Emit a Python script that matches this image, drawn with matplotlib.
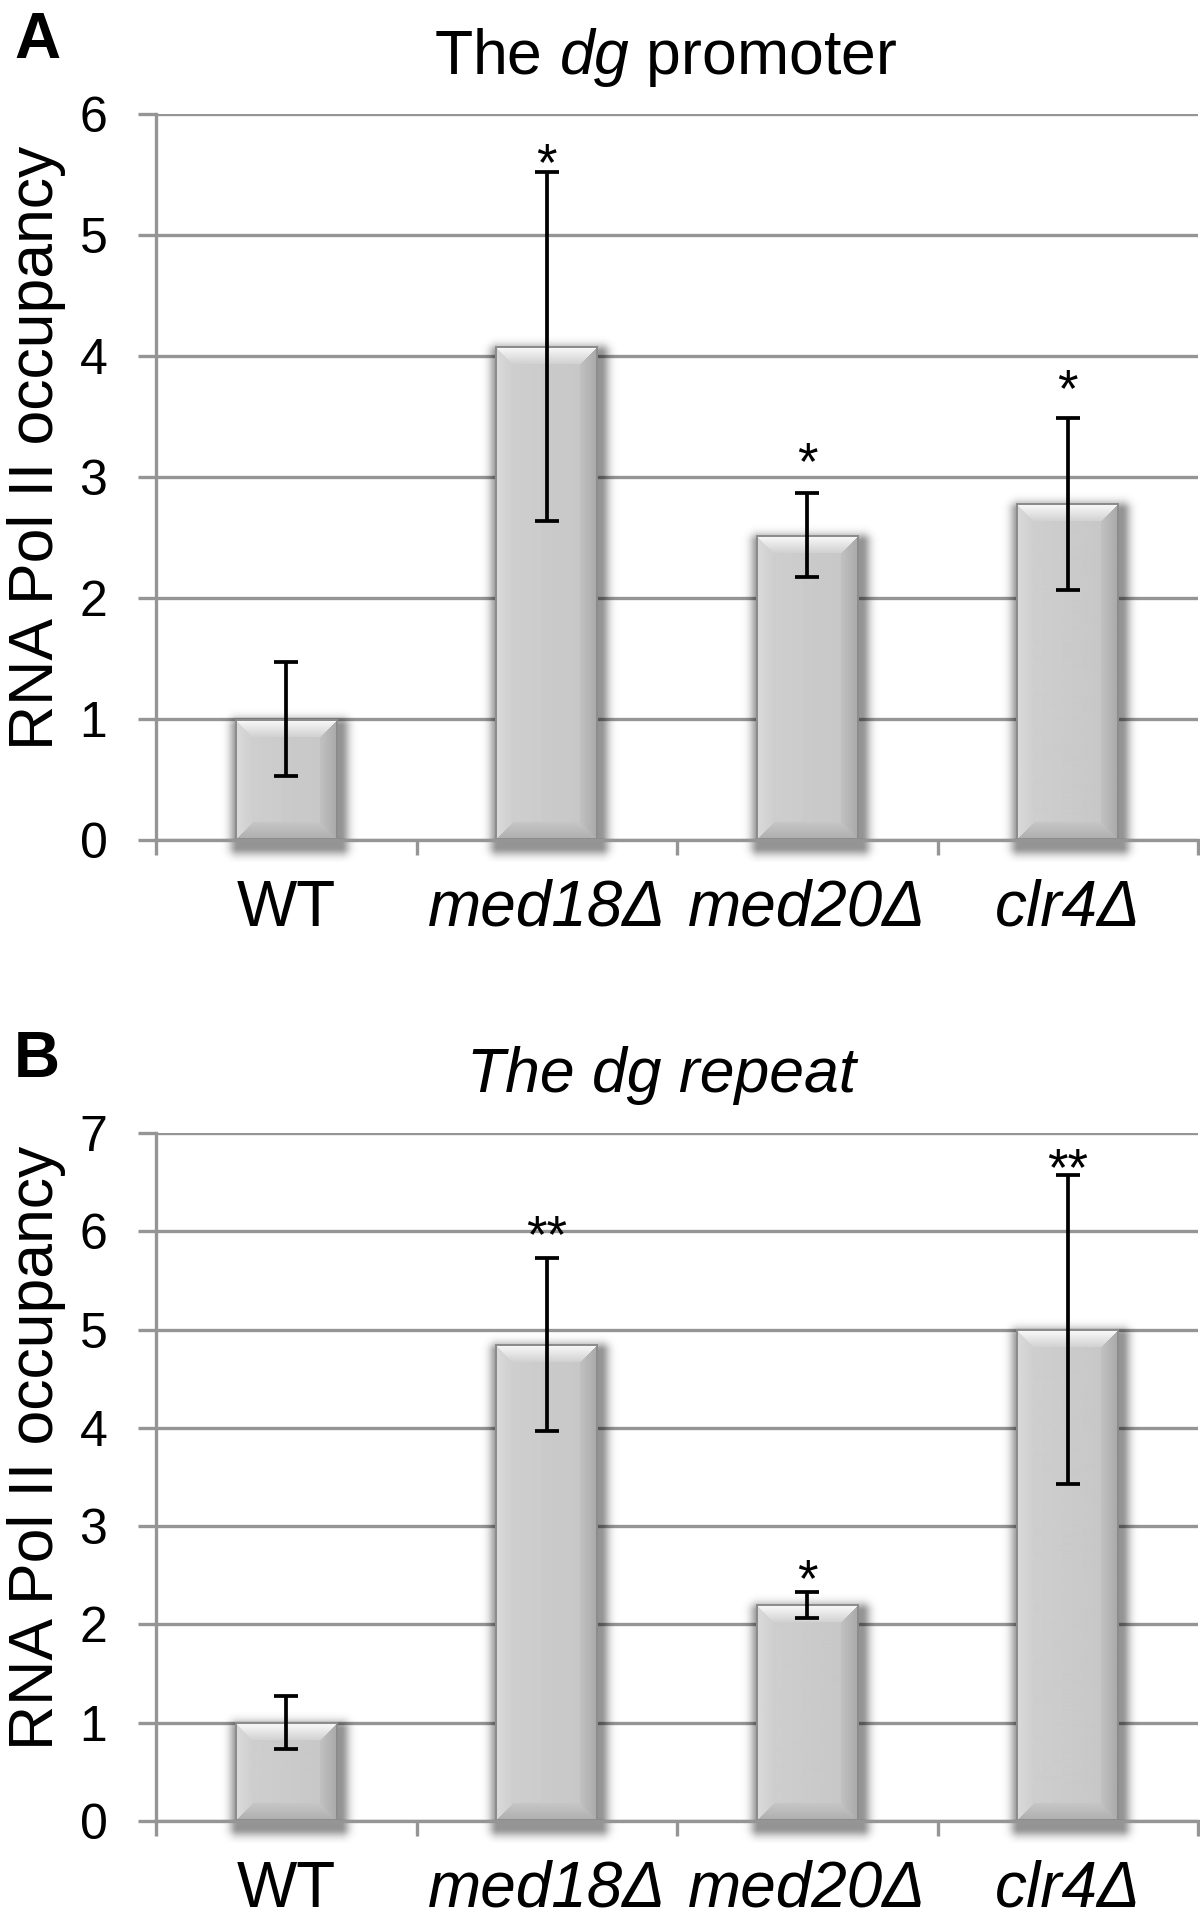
import numpy as np
import matplotlib
matplotlib.use('Agg')
import matplotlib.pyplot as plt

plt.rcParams['font.family'] = ['Liberation Sans', 'DejaVu Sans']
plt.rcParams['mathtext.fontset'] = 'custom'
plt.rcParams['mathtext.rm'] = 'Liberation Sans'
plt.rcParams['mathtext.it'] = 'Liberation Sans:italic'

# ---------------- data ----------------
categories = ['WT', 'med18Δ', 'med20Δ', 'clr4Δ']
italic_cat = [False, True, True, True]

promoter_values = [1.0, 4.08, 2.52, 2.78]
promoter_errors = [0.47, 1.44, 0.35, 0.71]
promoter_marks = ['', '*', '*', '*']

repeat_values = [1.0, 4.85, 2.20, 5.0]
repeat_errors = [0.27, 0.88, 0.13, 1.57]
repeat_marks = ['', '**', '*', '**']

promoter_yticks = [0, 1, 2, 3, 4, 5, 6]
repeat_yticks = [0, 1, 2, 3, 4, 5, 6, 7]

# ---------------- style ----------------
W, H, DPI = 1200, 1926, 100
GRAY = '#959595'
LW = 2.4
STAR_FS = 38

fig = plt.figure(figsize=(W / DPI, H / DPI), dpi=DPI)
axA = fig.add_axes([156 / W, 1 - 840 / H, 1042 / W, 726 / H])
axB = fig.add_axes([156 / W, 1 - 1821 / H, 1042 / W, 688 / H])


def shade_bar(ax, bar):
    x0, w, h = bar.get_x(), bar.get_width(), bar.get_height()
    p0 = ax.transData.transform((x0, 0))
    p1 = ax.transData.transform((x0 + w, h))
    wp = int(round(p1[0] - p0[0]))
    hp = int(round(p1[1] - p0[1]))
    jj, ii = np.meshgrid(np.arange(wp) + 0.5, np.arange(hp) + 0.5)
    dl, dr, dt, db = jj, wp - jj, ii, hp - ii
    d = np.stack([dt, dl, dr, db])
    face = np.argmin(d, axis=0)
    dmin = d.min(axis=0)
    b = 18.0
    t = np.clip(dmin / b, 0, 1)
    img = 0.815 - 0.04 * (jj / wp)
    top = 0.99 - 0.17 * t
    left = 0.86 - 0.05 * t
    right = 0.66 + 0.10 * t
    bottom = 0.68 + 0.10 * t
    bev = dmin < b
    img = np.where(bev & (face == 0), top, img)
    img = np.where(bev & (face == 1), left, img)
    img = np.where(bev & (face == 2), right, img)
    img = np.where(bev & (face == 3), bottom, img)
    img = np.where(dmin < 2.0, 0.55, img)
    ax.imshow(img, extent=(x0, x0 + w, 0, h), aspect='auto', cmap='gray',
              vmin=0, vmax=1, interpolation='bilinear', zorder=2.2)
    # soft drop shadow
    m = 22
    sx, sy = 3, 7
    jj2, ii2 = np.meshgrid(np.arange(wp + 2 * m) + 0.5 - m - sx,
                           np.arange(hp + 2 * m) + 0.5 - m - sy)
    dx = np.maximum(0, np.maximum(-jj2, jj2 - wp))
    dy = np.maximum(0, np.maximum(-ii2, ii2 - hp))
    alpha = 0.42 * np.exp(-(dx ** 2 + dy ** 2) / (2 * 6.0 ** 2))
    rgba = np.zeros(alpha.shape + (4,))
    rgba[..., 3] = alpha
    inv = ax.transData.inverted()
    mx = inv.transform((m, 0))[0] - inv.transform((0, 0))[0]
    my = inv.transform((0, m))[1] - inv.transform((0, 0))[1]
    ax.imshow(rgba, extent=(x0 - mx, x0 + w + mx, -my, h + my), aspect='auto',
              interpolation='bilinear', zorder=2.1, clip_on=False)


def panel(ax, values, errors, marks, yticks, star_offsets):
    x = np.arange(1, len(values) + 1)
    ax.set_xlim(0.5, len(values) + 0.5)
    ax.set_ylim(yticks[0], yticks[-1])
    bars = ax.bar(x, values, width=0.395, color='none', edgecolor='none', zorder=2.2)
    for bar in bars:
        shade_bar(ax, bar)
    ax.set_xlim(0.5, len(values) + 0.5)
    ax.set_ylim(yticks[0], yticks[-1])
    ax.errorbar(x, values, yerr=errors, fmt='none', ecolor='black',
                elinewidth=2.7, capsize=8.8, capthick=2.7, zorder=4)
    for xi, v, e, mk, off in zip(x, values, errors, marks, star_offsets):
        if mk:
            ax.annotate(mk, xy=(xi, v + e), xytext=(0, off), textcoords='offset pixels',
                        ha='center', va='baseline', fontsize=STAR_FS, zorder=5)
    ax.set_yticks(yticks)
    ax.set_yticklabels([str(t) for t in yticks])
    ax.yaxis.grid(True, color=GRAY, linewidth=LW)
    ax.set_axisbelow(True)
    for s in ['top', 'right']:
        ax.spines[s].set_visible(False)
    for s in ['left', 'bottom']:
        ax.spines[s].set_color(GRAY)
        ax.spines[s].set_linewidth(LW)
    ax.tick_params(axis='y', length=13, width=LW, color=GRAY, pad=22, labelsize=36)
    ax.set_xticks(x)
    ax.set_xticklabels(categories)
    for lab, it in zip(ax.get_xticklabels(), italic_cat):
        if it:
            lab.set_fontstyle('italic')
    ax.set_xticks(np.arange(0.5, len(values) + 1), minor=True)
    ax.tick_params(axis='x', which='major', length=0, pad=28, labelsize=46)
    ax.tick_params(axis='x', which='minor', length=11, width=LW, color=GRAY)
    ax.set_facecolor('none')


panel(axA, promoter_values, promoter_errors, promoter_marks, promoter_yticks,
      [0, -8, 14, 12])
panel(axB, repeat_values, repeat_errors, repeat_marks, repeat_yticks,
      [0, 6, -4, -10])

# titles, labels
fig.text(666 / W, 1 - 74 / H, r'The $\it{dg}$ promoter', ha='center', va='baseline', fontsize=45)
fig.text(662 / W, 1 - 1092 / H, 'The dg repeat', ha='center', va='baseline', fontsize=45,
         fontstyle='italic')
fig.text(14 / W, 1 - 58 / H, 'A', ha='left', va='baseline', fontsize=46, fontweight='bold')
fig.text(14 / W, 1 - 1077 / H, 'B', ha='left', va='baseline', fontsize=46, fontweight='bold')
fig.text(37 / W, 1 - 448 / H, 'RNA Pol II occupancy', rotation=90, ha='center', va='center',
         fontsize=45)
fig.text(37 / W, 1 - 1448 / H, 'RNA Pol II occupancy', rotation=90, ha='center', va='center',
         fontsize=45)

fig.savefig('out.png', dpi=DPI)
